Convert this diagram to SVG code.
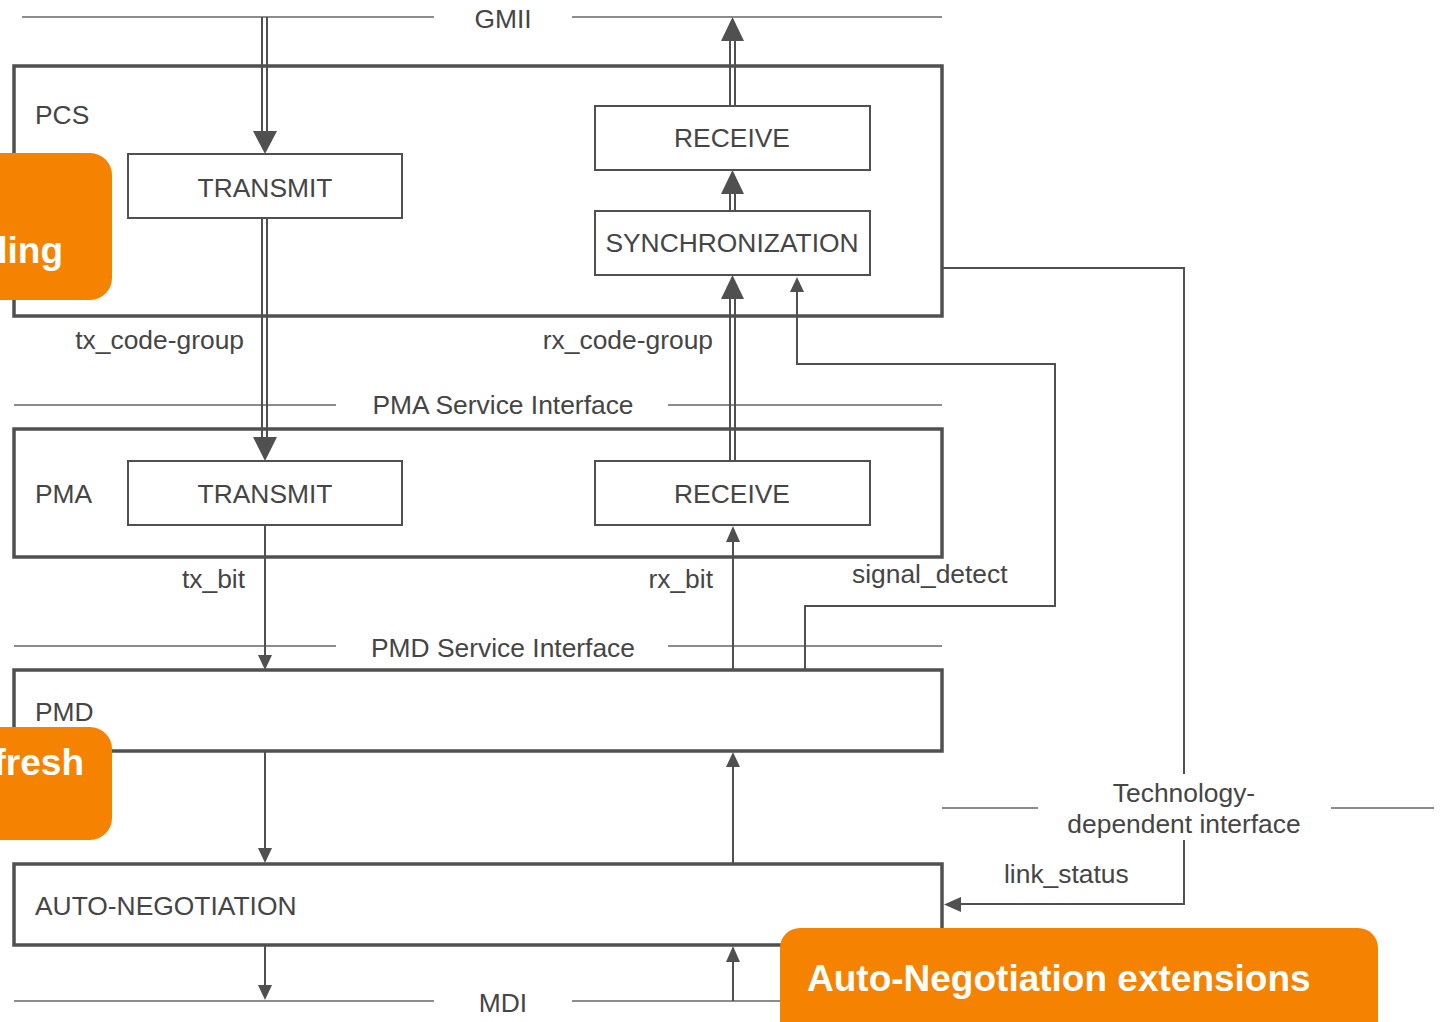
<svg xmlns="http://www.w3.org/2000/svg" width="1441" height="1022" viewBox="0 0 1441 1022">
<style>
.t{font-family:"Liberation Sans",Arial,sans-serif;font-size:26.4px;fill:#454545}
.c{text-anchor:middle}
.e{text-anchor:end}
.layer{fill:#fff;stroke:#505050;stroke-width:3.5}
.blk{fill:#fff;stroke:#505050;stroke-width:2}
.ln{fill:none;stroke:#505050;stroke-width:2}
.if{fill:none;stroke:#666;stroke-width:1.6}
.ah{fill:#505050;stroke:none}
.or{fill:#F58200}
.ot{font-family:"Liberation Sans",Arial,sans-serif;font-weight:bold;font-size:37px;fill:#fff}
</style>
<rect width="1441" height="1022" fill="#fff"/>
<g id="interfaces">
<line class="if" x1="22" y1="17" x2="434" y2="17"/><line class="if" x1="572" y1="17" x2="942" y2="17"/>
<text class="t c" x="503" y="28">GMII</text>
<line class="if" x1="14" y1="405" x2="336" y2="405"/><line class="if" x1="668" y1="405" x2="942" y2="405"/>
<text class="t c" x="503" y="414">PMA Service Interface</text>
<line class="if" x1="14" y1="646" x2="336" y2="646"/><line class="if" x1="668" y1="646" x2="942" y2="646"/>
<text class="t c" x="503" y="657">PMD Service Interface</text>
<line class="if" x1="14" y1="1001" x2="434" y2="1001"/><line class="if" x1="572" y1="1001" x2="800" y2="1001"/>
<text class="t c" x="503" y="1012">MDI</text>
<line class="if" x1="942" y1="808" x2="1038" y2="808"/><line class="if" x1="1331" y1="808" x2="1434" y2="808"/>
<text class="t c" x="1184" y="802">Technology-</text>
<text class="t c" x="1184" y="833">dependent interface</text>
</g>
<g id="pcs">
<rect class="layer" x="14" y="66" width="928" height="250"/>
<text class="t" x="35" y="124">PCS</text>
</g>
<g id="pcs-transmit"><rect class="blk" x="128" y="154" width="274" height="64"/><text class="t c" x="265" y="197">TRANSMIT</text></g>
<g id="pcs-receive"><rect class="blk" x="595" y="106" width="275" height="64"/><text class="t c" x="732" y="147">RECEIVE</text></g>
<g id="pcs-sync"><rect class="blk" x="595" y="211" width="275" height="64"/><text class="t c" x="732" y="252">SYNCHRONIZATION</text></g>
<g id="pma">
<rect class="layer" x="14" y="429" width="928" height="128"/>
<text class="t" x="35" y="503">PMA</text>
</g>
<g id="pma-transmit"><rect class="blk" x="128" y="461" width="274" height="64"/><text class="t c" x="265" y="503">TRANSMIT</text></g>
<g id="pma-receive"><rect class="blk" x="595" y="461" width="275" height="64"/><text class="t c" x="732" y="503">RECEIVE</text></g>
<g id="pmd">
<rect class="layer" x="14" y="670" width="928" height="81"/>
<text class="t" x="35" y="721">PMD</text>
</g>
<g id="autoneg">
<rect class="layer" x="14" y="864" width="928" height="81"/>
<text class="t" x="35" y="915">AUTO-NEGOTIATION</text>
</g>
<g id="connectors">
<!-- GMII -> PCS TRANSMIT -->
<line class="ln" x1="262" y1="17" x2="262" y2="135"/><line class="ln" x1="267" y1="17" x2="267" y2="135"/>
<polygon class="ah" points="253,131 277,131 265,154"/>
<!-- RECEIVE -> GMII -->
<line class="ln" x1="730" y1="106" x2="730" y2="36"/><line class="ln" x1="735" y1="106" x2="735" y2="36"/>
<polygon class="ah" points="721,41 744,41 732.5,17"/>
<!-- SYNC -> RECEIVE -->
<line class="ln" x1="730" y1="211" x2="730" y2="190"/><line class="ln" x1="735" y1="211" x2="735" y2="190"/>
<polygon class="ah" points="721,194 744,194 732.5,170"/>
<!-- tx_code-group -->
<line class="ln" x1="262" y1="218" x2="262" y2="440"/><line class="ln" x1="267" y1="218" x2="267" y2="440"/>
<polygon class="ah" points="253,437 277,437 265,461"/>
<text class="t e" x="244" y="349">tx_code-group</text>
<!-- rx_code-group -->
<line class="ln" x1="730" y1="461" x2="730" y2="295"/><line class="ln" x1="735" y1="461" x2="735" y2="295"/>
<polygon class="ah" points="721,299 744,299 732.5,275"/>
<text class="t e" x="713" y="349">rx_code-group</text>
<!-- tx_bit -->
<line class="ln" x1="265" y1="525" x2="265" y2="656"/>
<polygon class="ah" points="258,655 272,655 265,670"/>
<text class="t e" x="245" y="588">tx_bit</text>
<!-- rx_bit -->
<line class="ln" x1="733" y1="670" x2="733" y2="540"/>
<polygon class="ah" points="726,542 740,542 733,526"/>
<text class="t e" x="713" y="588">rx_bit</text>
<!-- signal_detect -->
<polyline class="ln" points="805,670 805,606 1055,606 1055,364 797,364 797,290"/>
<polygon class="ah" points="790,292 804,292 797,277"/>
<text class="t" x="852" y="583">signal_detect</text>
<!-- PMD -> AUTO-NEG -->
<line class="ln" x1="265" y1="751" x2="265" y2="850"/>
<polygon class="ah" points="258,848 272,848 265,863"/>
<!-- AUTO-NEG -> PMD -->
<line class="ln" x1="733" y1="864" x2="733" y2="765"/>
<polygon class="ah" points="726,767 740,767 733,752"/>
<!-- AUTO-NEG -> MDI -->
<line class="ln" x1="265" y1="945" x2="265" y2="988"/>
<polygon class="ah" points="258,985 272,985 265,1000"/>
<!-- MDI -> AUTO-NEG -->
<line class="ln" x1="733" y1="1001" x2="733" y2="960"/>
<polygon class="ah" points="726,962 740,962 733,946"/>
<!-- link_status -->
<polyline class="ln" points="943,268 1184,268 1184,774"/>
<polyline class="ln" points="1184,840 1184,904 958,904"/>
<polygon class="ah" points="961,897 961,912 944,904.5"/>
<text class="t" x="1004" y="883">link_status</text>
</g>
<g id="callout-coding">
<rect class="or" x="-40" y="153" width="152" height="147" rx="22"/>
<text class="ot e" x="63" y="263">ding</text>
</g>
<g id="callout-refresh">
<rect class="or" x="-40" y="727" width="152" height="113" rx="22"/>
<text class="ot e" x="84" y="775">fresh</text>
</g>
<g id="callout-autoneg">
<rect class="or" x="780" y="928" width="598" height="130" rx="20"/>
<text class="ot" x="807" y="991">Auto-Negotiation extensions</text>
</g>
</svg>
